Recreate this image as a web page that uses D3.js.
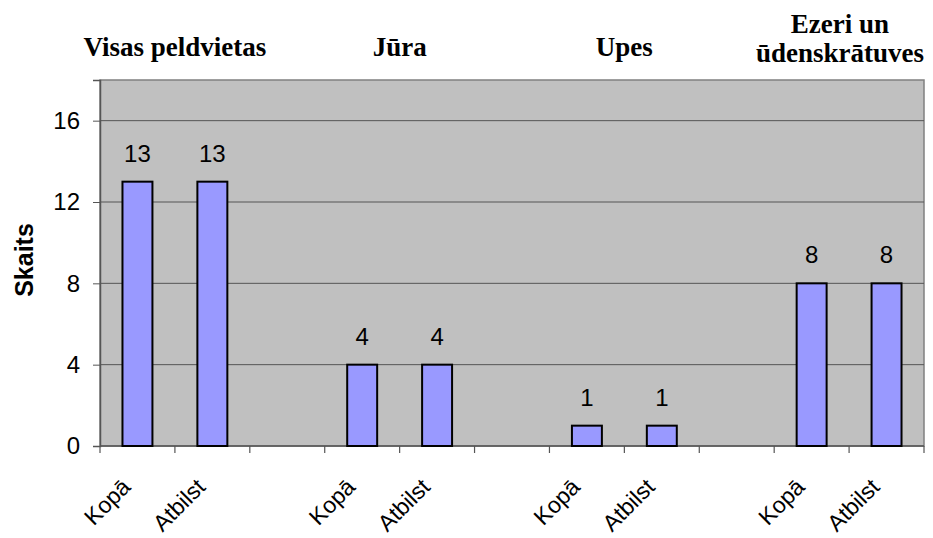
<!DOCTYPE html>
<html><head><meta charset="utf-8">
<script src="https://cdn.jsdelivr.net/npm/d3@7"></script>
<style>body{margin:0;background:#fff}svg{display:block}</style>
</head><body>
<svg id="c" width="933" height="538"></svg>
<script>
const categories = ["Kopā","Atbilst","","Kopā","Atbilst","","Kopā","Atbilst","","Kopā","Atbilst"];
const values = [13,13,null,4,4,null,1,1,null,8,8];
const groupNames = [["Visas peldvietas"],["Jūra"],["Upes"],["Ezeri un","ūdenskrātuves"]];
const groupFrom = [0,3,6,9];
const groupTo = [1,4,7,10];
const yTicks = [0,4,8,12,16];
const yMax = 18;
const yTitle = "Skaits";

const SANS = "Arial, 'Liberation Sans', sans-serif";
const SERIF = "'Times New Roman', 'Liberation Serif', serif";
const svg = d3.select("#c");
const L=100, R=924, T=80, B=446;
const x = d3.scaleBand().domain(d3.range(categories.length)).range([L,R]);
const y = d3.scaleLinear().domain([0,yMax]).range([B,T]);

svg.append("rect").attr("x",L).attr("y",T).attr("width",R-L).attr("height",B-T)
  .attr("fill","#c0c0c0").attr("stroke","#808080").attr("stroke-width",1.5);

svg.append("g").selectAll("line").data(yTicks.filter(d=>d>0)).join("line")
  .attr("x1",L).attr("x2",R).attr("y1",d=>y(d)).attr("y2",d=>y(d))
  .attr("stroke","#555").attr("stroke-width",1);

const ya = svg.append("g").attr("transform",`translate(${L},0)`)
  .call(d3.axisLeft(y).tickValues(yTicks).tickSize(7).tickPadding(13));
ya.select(".domain").attr("stroke","#555").attr("stroke-width",1.5);
ya.selectAll(".tick line").attr("stroke","#555");
ya.selectAll("text").attr("font-family",SANS).attr("font-size",24).attr("fill","#000");

const bounds = d3.range(categories.length+1).map(i => i<categories.length ? x(i) : x(categories.length-1)+x.bandwidth());
svg.append("line").attr("x1",L).attr("x2",R).attr("y1",B).attr("y2",B).attr("stroke","#555").attr("stroke-width",1.5);
svg.append("g").selectAll("line").data(bounds).join("line")
  .attr("x1",d=>d).attr("x2",d=>d).attr("y1",B).attr("y2",B+7).attr("stroke","#555").attr("stroke-width",1.2);

const bw = x.bandwidth()*0.4;
const data = categories.map((c,i)=>({c,i,v:values[i]})).filter(d=>d.v!=null);
svg.append("g").selectAll("rect").data(data).join("rect")
  .attr("x",d=>x(d.i)+x.bandwidth()/2-bw/2).attr("width",bw)
  .attr("y",d=>y(d.v)).attr("height",d=>y(0)-y(d.v))
  .attr("fill","#9999ff").attr("stroke","#000").attr("stroke-width",2);

svg.append("g").selectAll("text").data(data).join("text")
  .attr("x",d=>x(d.i)+x.bandwidth()/2).attr("y",d=>y(d.v)-20)
  .attr("text-anchor","middle").attr("font-family",SANS)
  .attr("font-size",24).text(d=>d.v);

svg.append("g").selectAll("text").data(categories.map((c,i)=>({c,i})).filter(d=>d.c)).join("text")
  .attr("transform",d=>`translate(${x(d.i)+x.bandwidth()/2-17},${B+31}) rotate(-45)`)
  .attr("text-anchor","end").attr("dy","0.7em")
  .attr("font-family",SANS).attr("font-size",23).text(d=>d.c);

const tg = svg.append("g").attr("font-family",SERIF).attr("font-weight","bold").attr("font-size",27);
groupNames.forEach((lines,gi)=>{
  const cx = (x(groupFrom[gi])+x(groupTo[gi])+x.bandwidth())/2;
  const t = tg.append("text").attr("text-anchor","middle");
  const ys = lines.length===1 ? [56] : [33,62];
  lines.forEach((ln,k)=>t.append("tspan").attr("x",cx).attr("y",ys[k]).text(ln));
  const bb = t.node().getBBox();
  if (bb.x+bb.width > 924) t.selectAll("tspan").attr("x",cx-(bb.x+bb.width-924));
});

svg.append("text").attr("transform",`translate(33,${(T+B)/2-3}) rotate(-90)`)
  .attr("text-anchor","middle").attr("font-family",SANS)
  .attr("font-weight","bold").attr("font-size",25).text(yTitle);
</script>
</body></html>
